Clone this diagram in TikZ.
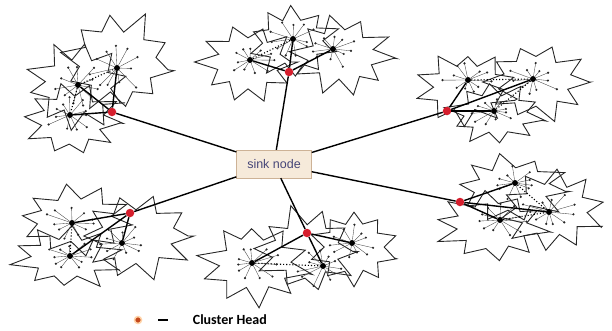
\documentclass[tikz,border=0pt]{standalone}
\usepackage{fontspec}
\setmainfont{Liberation Sans}
\newfontfamily\legendfont{Carlito}
\usepackage{xcolor}
\usepackage{tikz}
\usetikzlibrary{positioning}
\definecolor{chred}{RGB}{214,30,45}
\definecolor{legred}{RGB}{196,72,28}
\definecolor{sinkfill}{RGB}{246,234,218}
\definecolor{sinkdraw}{RGB}{205,178,150}
\definecolor{sinktext}{RGB}{70,70,120}
\tikzset{
  burst/.style={draw=black!85, line width=0.9pt, line join=miter},
  spoke/.style={black!75, line width=0.35pt},
  member/.style={fill=black!85},
  subhead/.style={circle, fill=black, inner sep=0pt, minimum size=6pt},
  head/.style={circle, fill=chred, inner sep=0pt, minimum size=8.5pt},
  link/.style={black, line width=1.4pt},
  dotlink/.style={black, line width=1.1pt, dotted},
  sinkbox/.style={draw=sinkdraw, fill=sinkfill, minimum width=75pt, minimum height=28pt, inner sep=2pt, font=\fontsize{12.5}{14}\selectfont, text=sinktext},
  legtext/.style={font=\legendfont\bfseries\fontsize{14}{16}\selectfont, inner sep=0pt},
}
% jagged sub-cluster outline: x, y, rx, ry, rotation
\newcommand{\burstshape}[5]{%
  \begin{scope}[shift={(#1,#2)}, xscale=#3, yscale=#4]
    \draw[burst] (#5:1) \foreach \k in {1,...,10} {
        -- ({\k*36-18+#5}:{0.6+0.08*rnd})
        -- ({\k*36+#5}:{0.86+0.24*rnd}) } -- cycle;
  \end{scope}}
% member sensors around a sub-head: name, rx, ry
\newcommand{\members}[3]{%
  \foreach \k in {1,...,11} {
    \pgfmathsetmacro\f{0.28+0.32*rnd}
    \path (#1) ++({\k*360/11+18*rnd}:{#2*\f} and {#3*\f}) coordinate (#1-m\k);
    \draw[spoke] (#1) -- (#1-m\k);
    \fill[member] (#1-m\k) circle (1.2pt);
  }}

\begin{document}
\begin{tikzpicture}[x=1pt,y=-1pt]
  \useasboundingbox (0,0) rectangle (612,330);
  \pgfmathsetseed{17}

  % sub-cluster outlines
  \burstshape{117}{62}{58}{50}{10}
  \burstshape{78}{85}{52}{42}{25}
  \burstshape{72}{120}{48}{36}{5}

  \burstshape{248}{62}{50}{40}{0}
  \burstshape{293}{42}{46}{36}{15}
  \burstshape{342}{55}{52}{38}{5}

  \burstshape{466}{88}{52}{36}{20}
  \burstshape{536}{82}{55}{38}{0}
  \burstshape{495}{114}{48}{31}{12}

  \burstshape{76}{220}{58}{34}{8}
  \burstshape{68}{258}{55}{31}{22}
  \burstshape{136}{236}{58}{42}{0}

  \burstshape{255}{264}{55}{40}{14}
  \burstshape{306}{250}{52}{42}{2}
  \burstshape{354}{247}{45}{38}{18}

  \burstshape{512}{188}{58}{33}{6}
  \burstshape{552}{210}{55}{40}{24}
  \burstshape{492}{226}{58}{34}{10}

  % sub-heads
  \node[subhead] (c1a) at (78,85) {};
  \node[subhead] (c1b) at (117,68) {};
  \node[subhead] (c1c) at (70,115) {};
  \node[subhead] (c2a) at (250,60) {};
  \node[subhead] (c2b) at (293,39) {};
  \node[subhead] (c2c) at (333,49) {};
  \node[subhead] (c3a) at (468,80) {};
  \node[subhead] (c3b) at (533,79) {};
  \node[subhead] (c3c) at (494,111) {};
  \node[subhead] (c4a) at (72,223) {};
  \node[subhead] (c4b) at (70,256) {};
  \node[subhead] (c4c) at (122,243) {};
  \node[subhead] (c5a) at (252,263) {};
  \node[subhead] (c5b) at (352,243) {};
  \node[subhead] (c5c) at (323,266) {};
  \node[subhead] (c6a) at (515,183) {};
  \node[subhead] (c6b) at (549,212) {};
  \node[subhead] (c6c) at (500,220) {};

  \members{c1a}{46}{38} \members{c1b}{50}{44} \members{c1c}{42}{30}
  \members{c2a}{44}{34} \members{c2b}{42}{32} \members{c2c}{46}{32}
  \members{c3a}{46}{30} \members{c3b}{48}{32} \members{c3c}{42}{27}
  \members{c4a}{50}{30} \members{c4b}{48}{27} \members{c4c}{50}{36}
  \members{c5a}{48}{34} \members{c5b}{40}{32} \members{c5c}{46}{36}
  \members{c6a}{50}{29} \members{c6b}{48}{34} \members{c6c}{50}{29}

  % links between sub-heads
  \draw[dotlink] (c1a) -- (c1b);
  \draw[dotlink] (c1a) -- (c1c);
  \draw[dotlink] (c2a) -- (c2b);
  \draw[dotlink] (c3a) -- (c3b);
  \draw[dotlink] (c3b) -- (c3c);
  \draw[dotlink] (c4a) -- (c4b);
  \draw[dotlink] (c5a) -- (c5c);
  \draw[dotlink] (c6a) -- (c6b);
  \draw[dotlink] (c6c) -- (c6b);

  % sink and cluster heads
  \node[sinkbox] (sink) at (274,164) {sink node};
  \node[head] (ch1) at (112,112) {};
  \node[head] (ch2) at (289,72) {};
  \node[head] (ch3) at (447,111) {};
  \node[head] (ch4) at (130,213) {};
  \node[head] (ch5) at (307,233) {};
  \node[head] (ch6) at (460,202) {};

  \foreach \c in {1,...,6} {
    \draw[link] (ch\c) -- (sink);
    \foreach \s in {a,b,c}
      \draw[link] (ch\c) -- (c\c\s);
  }

  % legend
  \node[circle, fill=legred, draw=orange!35, line width=1.5pt, inner sep=0pt, minimum size=7pt] (legdot) at (138,320) {};
  \node[fill=black, inner sep=0pt, minimum width=10pt, minimum height=2.5pt, right=16pt of legdot] (legdash) {};
  \node[legtext, right=24pt of legdash] (legend) {Cluster Head};
\end{tikzpicture}
\end{document}
